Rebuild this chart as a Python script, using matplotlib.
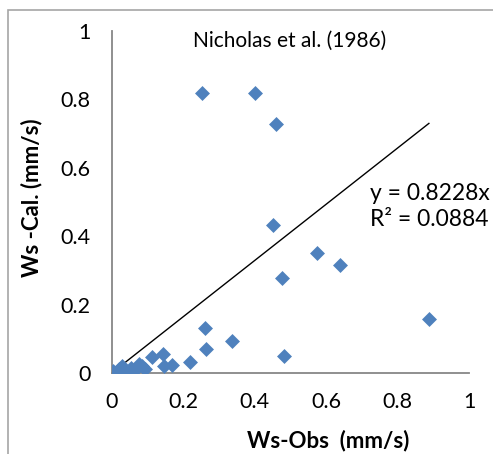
import matplotlib.pyplot as plt
from matplotlib.patches import Rectangle
import numpy as np

# observed vs calculated settling velocity, mm/s
ws_obs = [0.005, 0.012, 0.020, 0.028, 0.035, 0.045, 0.055, 0.065, 0.075, 0.085,
          0.093, 0.112, 0.144, 0.146, 0.168, 0.220, 0.253, 0.262, 0.263, 0.337,
          0.400, 0.451, 0.459, 0.477, 0.482, 0.573, 0.638, 0.887]
ws_cal = [0.005, 0.000, 0.012, 0.020, 0.008, 0.002, 0.015, 0.010, 0.025, 0.020,
          0.012, 0.048, 0.056, 0.020, 0.024, 0.033, 0.820, 0.131, 0.069, 0.094,
          0.820, 0.432, 0.727, 0.278, 0.051, 0.350, 0.317, 0.159]
SLOPE = 0.8228
R2 = 0.0884
TICKS = [0, 0.2, 0.4, 0.6, 0.8, 1]
TICK_LABELS = ['0', '0.2', '0.4', '0.6', '0.8', '1']

W, H = 493, 454
FONT = ['Lato', 'DejaVu Sans']
GRAY = '#878787'

plt.rcParams['font.family'] = FONT
fig = plt.figure(figsize=(W / 100, H / 100), dpi=100)

# chart area border (only left and top visible in the crop)
fig.patches.append(Rectangle((7.5 / W, -0.2), 2, 1 - 10.5 / H + 0.2,
                             transform=fig.transFigure, fill=False,
                             edgecolor='#a6a6a6', linewidth=1.2))

ax = fig.add_axes([111.7 / W, 1 - 373 / H, (469.3 - 111.7) / W, (373 - 31) / H])
ax.scatter(ws_obs, ws_cal, marker='D', s=58, color='#4f81bd', linewidths=0, zorder=3)

xs = np.array([min(ws_obs), max(ws_obs)])
ax.plot(xs, SLOPE * xs, color='black', linewidth=1.0, zorder=2)

ax.set_xlim(0, 1)
ax.set_ylim(0, 1)
ax.set_xticks(TICKS)
ax.set_xticklabels(TICK_LABELS)
ax.set_yticks(TICKS)
ax.set_yticklabels(TICK_LABELS)
ax.tick_params(axis='both', length=0, labelsize=15.5, colors='black')
ax.tick_params(axis='x', pad=14)
ax.tick_params(axis='y', pad=15)
for side in ['top', 'right']:
    ax.spines[side].set_visible(False)
for side in ['left', 'bottom']:
    ax.spines[side].set_color(GRAY)
    ax.spines[side].set_linewidth(1.3)

ax.text(0.7215, 0.526, f'y = {SLOPE}x', fontsize=16.5, va='center', ha='left')
ax.text(0.7215, 0.450, f'R² = {R2}', fontsize=16.5, va='center', ha='left')

fig.text(290 / W, 1 - 41 / H, 'Nicholas et al. (1986)', fontsize=15,
         ha='center', va='center')
fig.text(32 / W, 1 - 198 / H, 'Ws -Cal. (mm/s)', fontsize=16, fontweight='bold',
         rotation=90, ha='center', va='center')
fig.text(328 / W, 1 - 441 / H, 'Ws-Obs  (mm/s)', fontsize=16, fontweight='bold',
         ha='center', va='center')

fig.savefig('out.png', dpi=100)
